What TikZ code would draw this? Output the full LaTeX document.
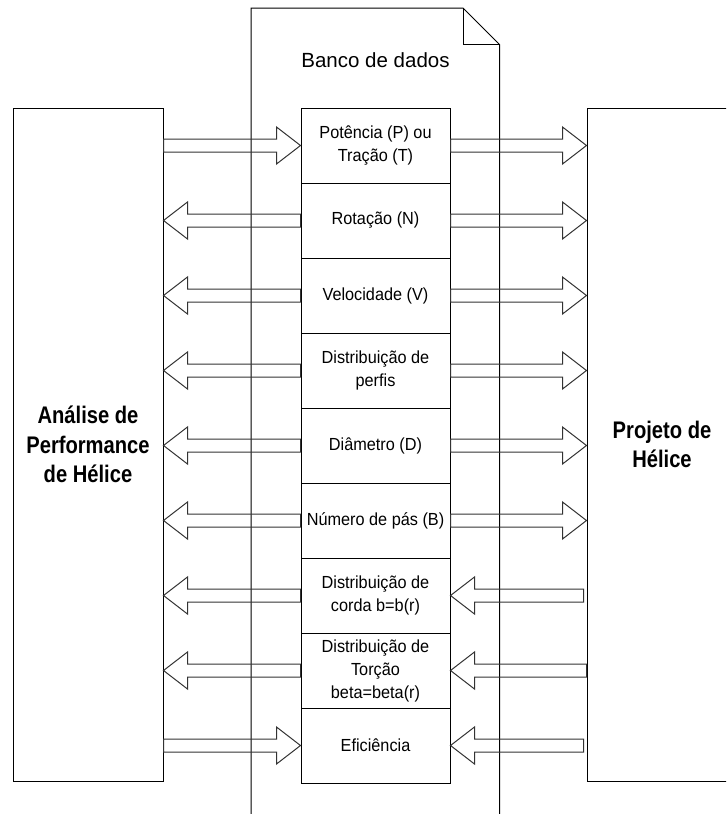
\documentclass[tikz,border=0pt]{standalone}
\usepackage{fontspec}
\setmainfont{Liberation Sans}
\newfontfamily\cellfont{Liberation Sans}[FakeStretch=0.93]
\newfontfamily\headfont{Liberation Sans}[FakeStretch=0.84]
\newfontfamily\titlefont{Liberation Sans}
\usetikzlibrary{calc}

\tikzset{
  panel/.style={draw=black, line width=1pt, fill=white, inner sep=0pt,
    minimum width=150pt, minimum height=673pt, align=center,
    font=\headfont\bfseries\fontsize{24}{29.5}\selectfont},
  cell/.style={draw=black, line width=1pt, fill=white, minimum width=149pt,
    minimum height=75pt, inner sep=0pt, align=center,
    font=\cellfont\fontsize{17.5}{23}\selectfont},
  title/.style={inner sep=0pt, font=\titlefont\fontsize{20.5}{24}\selectfont},
  barrow/.style={draw=black!80, line width=1pt, line join=miter},
  docline/.style={draw=black, line width=1pt}
}

% block arrow pointing right: tail #1, tip #2
\newcommand\arrowRight[2]{%
  \draw[barrow] ($(#1)+(0,-6.5)$) -- ($(#2)+(-24,-6.5)$) -- ($(#2)+(-24,-18.5)$)
    -- (#2) -- ($(#2)+(-24,18.5)$) -- ($(#2)+(-24,6.5)$) -- ($(#1)+(0,6.5)$) -- cycle;}
% block arrow pointing left: tail #1, tip #2
\newcommand\arrowLeft[2]{%
  \draw[barrow] ($(#1)+(0,-6.5)$) -- ($(#2)+(24,-6.5)$) -- ($(#2)+(24,-18.5)$)
    -- (#2) -- ($(#2)+(24,18.5)$) -- ($(#2)+(24,6.5)$) -- ($(#1)+(0,6.5)$) -- cycle;}

\begin{document}
\begin{tikzpicture}[x=1pt, y=-1pt]
  \useasboundingbox (0,0) rectangle (726,814);
  \clip (0,0) rectangle (726,814);

  % side panels
  \node[panel] (L) at (88,444.5) {Análise de\\Performance\\de Hélice};
  \node[panel] (R) at (662,444.5) {Projeto de\\Hélice};

  % document (Banco de dados)
  \draw[docline] (251,830) -- (251,8) -- (463,8) -- (499.5,44.5) -- (499.5,830);
  \draw[docline] (463,8) -- (463,44.5) -- (499.5,44.5);
  \node[title] (db) at (375.5,60) {Banco de dados};

  % central cells
  \node[cell] (r1) at (375.5,145.5) {Potência (P) ou\\Tração (T)};
  \node[cell] (r2) at (375.5,220.5) {Rotação (N)};
  \node[cell] (r3) at (375.5,295.5) {Velocidade (V)};
  \node[cell] (r4) at (375.5,370.5) {Distribuição de\\perfis};
  \node[cell] (r5) at (375.5,445.5) {Diâmetro (D)};
  \node[cell] (r6) at (375.5,520.5) {Número de pás (B)};
  \node[cell] (r7) at (375.5,595.5) {Distribuição de\\corda b=b(r)};
  \node[cell] (r8) at (375.5,670.5) {Distribuição de\\Torção\\beta=beta(r)};
  \node[cell] (r9) at (375.5,745.5) {Eficiência};

  % arrow end points on the side panels
  \foreach \i in {1,...,9} {
    \coordinate (la\i) at (L.east |- r\i.west);
    \coordinate (ra\i) at (R.west |- r\i.east);
  }
  \coordinate (rt7) at ($(ra7)+(-3,0)$);
  \coordinate (rt8) at (ra8);
  \coordinate (rt9) at ($(ra9)+(-3,0)$);

  % left side arrows
  \arrowRight{la1}{r1.west}
  \foreach \i in {2,...,8} {\arrowLeft{r\i.west}{la\i}}
  \arrowRight{la9}{r9.west}

  % right side arrows
  \foreach \i in {1,...,6} {\arrowRight{r\i.east}{ra\i}}
  \foreach \i in {7,8,9} {\arrowLeft{rt\i}{r\i.east}}
\end{tikzpicture}
\end{document}
